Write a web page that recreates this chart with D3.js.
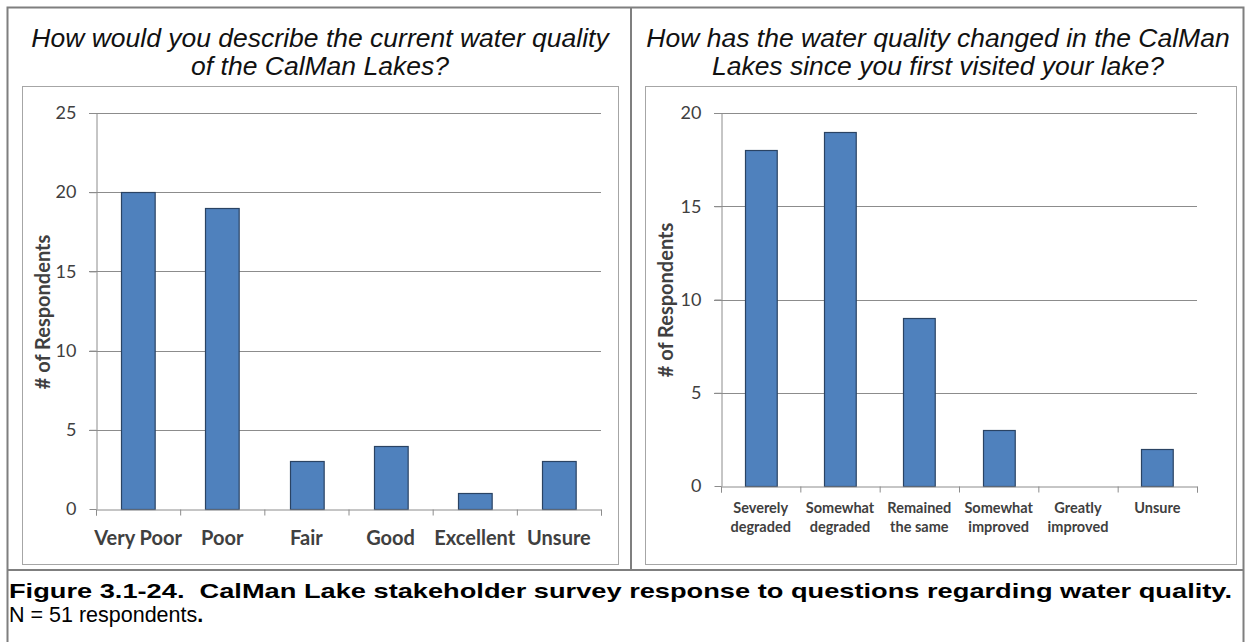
<!DOCTYPE html>
<html>
<head>
<meta charset="utf-8">
<script src="https://cdn.jsdelivr.net/npm/d3@7"></script>
<style>
  body { margin: 0; background: #fff; }
  svg { display: block; }
</style>
</head>
<body>
<svg id="chart" width="1250" height="642"></svg>
<script>
// data
var leftCategories = ["Very Poor", "Poor", "Fair", "Good", "Excellent", "Unsure"];
var leftValues = [20, 19, 3, 4, 1, 3];
var leftTicks = [0, 5, 10, 15, 20, 25];
var leftTitle = ["How would you describe the current water quality", "of the CalMan Lakes?"];

var rightCategories = [["Severely", "degraded"], ["Somewhat", "degraded"], ["Remained", "the same"],
                       ["Somewhat", "improved"], ["Greatly", "improved"], ["Unsure"]];
var rightValues = [18, 19, 9, 3, 0, 2];
var rightTicks = [0, 5, 10, 15, 20];
var rightTitle = ["How has the water quality changed in the CalMan", "Lakes since you first visited your lake?"];

var yLabel = "# of Respondents";
var captionBold = "Figure 3.1-24.  CalMan Lake stakeholder survey response to questions regarding water quality.";
var captionNote = "N = 51 respondents";

var svg = d3.select("#chart");
var labelFont = "Lato, 'Open Sans', sans-serif";
var textGrey = "#404040";
var gridGrey = "#8c8c8c";

// outer frame and dividers
svg.append("rect")
  .attr("x", 7.5).attr("y", 7.5)
  .attr("width", 1236).attr("height", 640)
  .attr("fill", "none").attr("stroke", "#7f7f7f").attr("stroke-width", 2);
svg.append("line")
  .attr("x1", 631).attr("x2", 631).attr("y1", 7).attr("y2", 570)
  .attr("stroke", "#7f7f7f").attr("stroke-width", 2);
svg.append("line")
  .attr("x1", 7).attr("x2", 1244).attr("y1", 570).attr("y2", 570)
  .attr("stroke", "#7f7f7f").attr("stroke-width", 2);

function drawPanel(opt) {
  var g = svg.append("g");

  // question title
  g.append("text")
    .attr("text-anchor", "middle")
    .attr("font-family", "'Liberation Sans', Arial, sans-serif")
    .attr("font-style", "italic")
    .attr("font-size", "26.5px")
    .attr("fill", "#111")
    .selectAll("tspan")
    .data(opt.title)
    .enter().append("tspan")
    .attr("x", opt.titleX)
    .attr("y", (d, i) => 47 + i * 28)
    .text(d => d);

  // chart box
  g.append("rect")
    .attr("x", opt.box[0] + 0.5).attr("y", 86.5)
    .attr("width", opt.box[1] - opt.box[0]).attr("height", 478)
    .attr("fill", "#fff").attr("stroke", "#a6a6a6").attr("stroke-width", 1);

  var y = d3.scaleLinear().domain([0, opt.yMax]).range([opt.y0, 113]);
  var x = d3.scaleBand().domain(d3.range(opt.values.length))
    .range([opt.x0, opt.x1]).paddingInner(0.6).paddingOuter(0.3);
  var xEdge = d3.scaleLinear().domain([0, opt.values.length]).range([opt.x0, opt.x1]);

  // gridlines
  g.append("g")
    .selectAll("line")
    .data(opt.ticks.filter(t => t > 0))
    .enter().append("line")
    .attr("x1", opt.x0 - 7).attr("x2", opt.x1)
    .attr("y1", d => Math.round(y(d)) + 0.5).attr("y2", d => Math.round(y(d)) + 0.5)
    .attr("stroke", gridGrey).attr("stroke-width", 1);

  // y axis
  g.append("g")
    .attr("transform", `translate(${opt.x0 + 0.5},0)`)
    .call(d3.axisLeft(y).tickValues(opt.ticks).tickSize(7).tickSizeOuter(0).tickPadding(13))
    .call(a => a.selectAll("path, line").attr("stroke", gridGrey))
    .call(a => a.selectAll("text")
      .attr("font-family", labelFont)
      .attr("font-size", "18px")
      .attr("fill", textGrey));

  // bars
  g.append("g")
    .selectAll("rect")
    .data(opt.values)
    .enter().append("rect")
    .attr("x", (d, i) => Math.round(x(i)) + 0.5)
    .attr("y", d => Math.round(y(d)) + 0.5)
    .attr("width", x.bandwidth())
    .attr("height", d => Math.round(y(0)) - Math.round(y(d)))
    .attr("fill", "#4f81bd")
    .attr("stroke", d => d > 0 ? "#2a4363" : "none")
    .attr("stroke-width", 1.2);

  // x axis with ticks between categories
  g.append("g")
    .attr("transform", `translate(0,${Math.round(y(0)) + 0.5})`)
    .call(d3.axisBottom(xEdge).ticks(opt.values.length).tickFormat("").tickSize(6).tickSizeOuter(6))
    .call(a => a.selectAll("path, line").attr("stroke", gridGrey));

  // category labels
  var lab = g.append("g")
    .attr("font-family", labelFont)
    .attr("font-weight", "bold")
    .attr("font-size", opt.catSize)
    .attr("fill", textGrey)
    .attr("text-anchor", "middle");
  opt.categories.forEach(function(c, i) {
    var lines = Array.isArray(c) ? c : [c];
    var t = lab.append("text");
    t.selectAll("tspan").data(lines).enter().append("tspan")
      .attr("x", x(i) + x.bandwidth() / 2)
      .attr("y", (d, k) => opt.catY + k * 19)
      .text(d => d);
  });

  // y axis title
  g.append("text")
    .attr("transform", `translate(${opt.yTitleX},${opt.yTitleY}) rotate(-90)`)
    .attr("text-anchor", "middle")
    .attr("font-family", labelFont)
    .attr("font-weight", "bold")
    .attr("font-size", "20px")
    .attr("fill", textGrey)
    .text(yLabel);
}

drawPanel({
  title: leftTitle, titleX: 320, box: [22, 618],
  values: leftValues, categories: leftCategories, ticks: leftTicks, yMax: 25,
  x0: 96, x1: 601, y0: 509, catY: 545, catSize: "20px",
  yTitleX: 50, yTitleY: 312
});

drawPanel({
  title: rightTitle, titleX: 938, box: [645, 1236],
  values: rightValues, categories: rightCategories, ticks: rightTicks, yMax: 20,
  x0: 721, x1: 1197, y0: 486, catY: 513, catSize: "14.5px",
  yTitleX: 673, yTitleY: 300
});

// figure caption
svg.append("text")
  .attr("x", 9).attr("y", 598)
  .attr("font-family", "'Liberation Sans', Arial, sans-serif")
  .attr("font-weight", "bold")
  .attr("font-size", "21px")
  .attr("fill", "#000")
  .attr("textLength", 1223)
  .attr("lengthAdjust", "spacingAndGlyphs")
  .style("white-space", "pre")
  .text(captionBold);

var note = svg.append("text")
  .attr("x", 9).attr("y", 622)
  .attr("font-family", "'Liberation Sans', Arial, sans-serif")
  .attr("font-size", "21.5px")
  .attr("fill", "#000");
note.append("tspan").text(captionNote);
note.append("tspan").attr("font-weight", "bold").text(".");
</script>
</body>
</html>
